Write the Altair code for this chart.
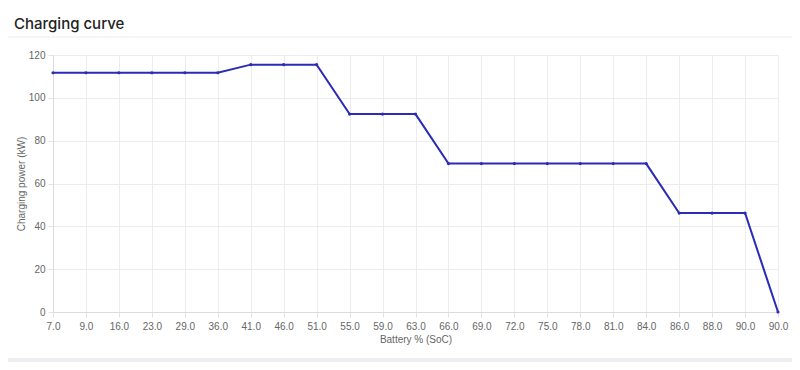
import altair as alt
import pandas as pd

soc = [7, 9, 16, 23, 29, 36, 41, 46, 51, 55, 59, 63, 66, 69, 72, 75, 78, 81, 84, 86, 88, 90, 90]
power = [111.7, 111.7, 111.7, 111.7, 111.7, 111.7,
         115.5, 115.5, 115.5,
         92.4, 92.4, 92.4,
         69.3, 69.3, 69.3, 69.3, 69.3, 69.3, 69.3,
         46.2, 46.2, 46.2,
         0.0]
labels = [f"{v:.1f}" for v in soc]

df = pd.DataFrame({"idx": list(range(len(soc))), "soc": soc, "power": power})
label_js = "[" + ",".join(f"'{l}'" for l in labels) + "]"

W, H = 725, 257
FONT = "Liberation Sans"
GRAY = "#666666"
LINE = "#2b2bb6"

base = alt.Chart(df)

line = base.mark_line(color=LINE, strokeWidth=2,
                      point=alt.OverlayMarkDef(color=LINE, filled=True, size=10)).encode(
    x=alt.X("idx:O", scale=alt.Scale(type="point", padding=0),
            sort=None,
            axis=alt.Axis(title="Battery % (SoC)", labelExpr=f"{label_js}[datum.value]",
                          labelAngle=0, labelColor=GRAY, labelFont=FONT, labelFontSize=10,
                          labelPadding=4, tickSize=5, tickColor="#e3e3e3",
                          domainColor="#dcdcdc", gridColor="#ececec", grid=True,
                          titleColor=GRAY, titleFont=FONT, titleFontSize=10,
                          titleFontWeight="normal", titlePadding=3)),
    y=alt.Y("power:Q", scale=alt.Scale(domain=[0, 120], nice=False),
            axis=alt.Axis(title="Charging power (kW)", values=[0, 20, 40, 60, 80, 100, 120],
                          labelColor=GRAY, labelFont=FONT, labelFontSize=10, labelPadding=3,
                          tickSize=5, tickColor="#e3e3e3", domainColor="#dcdcdc",
                          gridColor="#ececec", titleColor=GRAY, titleFont=FONT,
                          titleFontSize=10, titleFontWeight="normal", titlePadding=2)),
)

sep = alt.Chart(df.head(1)).mark_rule(color="#ececec", strokeWidth=1).encode(
    x=alt.value(-45), x2=alt.value(W + 14), y=alt.value(-18)
)
bottom = alt.Chart(df.head(1)).mark_rect(color="#eceef2").encode(
    x=alt.value(-45), x2=alt.value(W + 14), y=alt.value(303), y2=alt.value(307)
)
title = alt.Chart(pd.DataFrame({"t": ["Charging curve"]})).mark_text(
    align="left", baseline="alphabetic", font="Inter", fontSize=15, fontWeight=500,
    color="#222222"
).encode(text="t:N", x=alt.value(-39), y=alt.value(-26))

chart = alt.layer(bottom, sep, title, line).properties(
    width=W, height=H,
    autosize=alt.AutoSizeParams(type="none"),
    padding={"left": 45, "top": 47, "right": 14, "bottom": 50},
    background="white",
).configure_view(stroke=None)

chart.save("out.html", embed_options={"renderer": "svg", "actions": False})
